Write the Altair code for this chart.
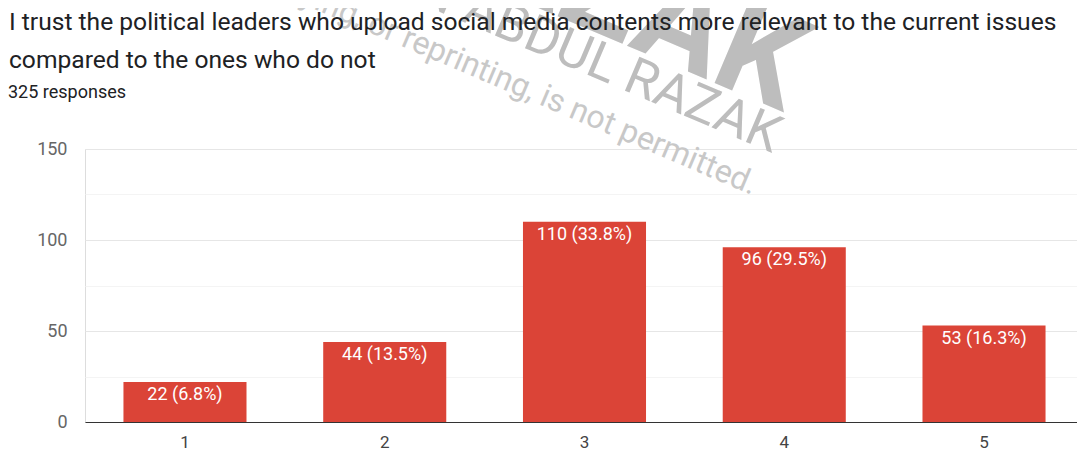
import altair as alt
import pandas as pd

categories = ["1", "2", "3", "4", "5"]
counts = [22, 44, 110, 96, 53]
labels = ["22 (6.8%)", "44 (13.5%)", "110 (33.8%)", "96 (29.5%)", "53 (16.3%)"]

title_line1 = "I trust the political leaders who upload social media contents more relevant to the current issues"
title_line2 = "compared to the ones who do not"
subtitle = "325 responses"

wm_small = "copying, or reprinting, is not permitted."
wm_mid = "BIN ABDUL RAZAK"
wm_big = "RAZAK"

df = pd.DataFrame({"cat": categories, "count": counts, "label": labels})

FONT = "Roboto"

xenc = alt.X(
    "cat:N",
    sort=categories,
    title=None,
    scale=alt.Scale(paddingInner=0.384, paddingOuter=0.175, align=0.55),
    axis=alt.Axis(labelAngle=0, labelFontSize=17, labelColor="#444444", labelFont=FONT,
                  domainColor="#333333", domainWidth=1, ticks=False, tickSize=0,
                  labelPadding=12, grid=False),
)

bars = alt.Chart(df).mark_bar(color="#db4437").encode(
    x=xenc,
    y=alt.Y(
        "count:Q",
        title=None,
        scale=alt.Scale(domain=[0, 150], nice=False),
        axis=alt.Axis(values=[0, 25, 50, 75, 100, 125, 150],
                      labelExpr="datum.value % 50 == 0 ? datum.label : ''",
                      labelFontSize=18, labelColor="#666666", labelFont=FONT,
                      domain=False, ticks=False, tickSize=0, labelPadding=18,
                      gridColor={"condition": {"test": "datum.value % 50 === 0", "value": "#e6e6e6"},
                                 "value": "#f4f4f4"},
                      gridWidth=1),
    ),
)

text = alt.Chart(df).mark_text(baseline="top", dy=4, color="white", fontSize=18, font=FONT).encode(
    x=alt.X("cat:N", sort=categories),
    y="count:Q",
    text="label:N",
)

def txt(s, x, y, size, color, angle=0, align="left", weight="normal"):
    return alt.Chart(pd.DataFrame({"t": [s]})).mark_text(
        align=align, baseline="alphabetic", fontSize=size, color=color,
        font=FONT, angle=angle, fontWeight=weight,
    ).encode(x=alt.value(x), y=alt.value(y), text="t:N")

wm1 = txt(wm_big, 698, -37, 130, "#bdbdbd", angle=23, align="right", weight="bold")
wm2 = txt(wm_mid, 687, 4, 52, "#bdbdbd", angle=23, align="right")
wm3 = txt(wm_small, 667, 46, 32, "#c8c8c8", angle=23, align="right")

t1 = txt(title_line1, -76, -119, 24.6, "#202124")
t2 = txt(title_line2, -76, -81, 24.6, "#202124")
t3 = txt(subtitle, -77, -51, 18, "#202124")

chart = alt.layer(bars, text, wm1, wm2, wm3, t1, t2, t3).properties(
    width=992, height=273,
    autosize=alt.AutoSizeParams(type="none"),
    padding={"left": 77, "top": 141, "right": 0, "bottom": 30},
).configure_view(stroke=None).configure(background="white")

chart.save("out.html", embed_options={"renderer": "svg", "actions": False})
